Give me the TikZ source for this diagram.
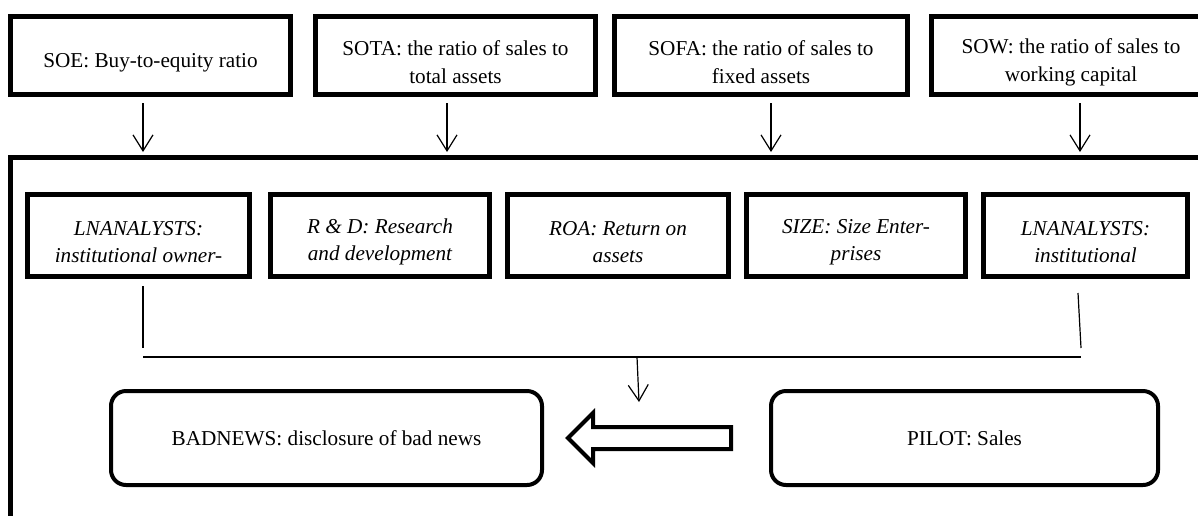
\documentclass[tikz,border=0pt]{standalone}
\usepackage{fontspec}
\setmainfont{Liberation Serif}
\usetikzlibrary{arrows.meta,calc}
\newcommand\oben{\rule{0pt}{14pt}}
\begin{document}
\begin{tikzpicture}[>={Straight Barb[length=8pt,width=10pt]},line width=0.6pt,
	kasten/.style={draw,line width=2.5pt,minimum height=78*\ds,inner sep=0pt,align=center,
		font=\fontsize{10.6}{13.8}\selectfont},
	kursiv/.style={kasten,minimum height=82*\ds,font=\fontsize{10.6}{13.6}\selectfont\itshape},
	rund/.style={draw,line width=2pt,rounded corners=7.5pt,minimum height=94*\ds,inner sep=0pt,
		font=\fontsize{10.6}{13.8}\selectfont},
	rahmen/.style={draw,line width=2.5pt,anchor=north west,inner sep=0pt}]
\def\ds{0.5pt}
\def\punkt#1#2{({(#1)*\ds},{-(#2)*\ds})}
\useasboundingbox \punkt{0}{0} rectangle \punkt{1198}{515};
\clip \punkt{0}{0} rectangle \punkt{1198}{515};
% obere Reihe
\node[kasten,minimum width=280*\ds] (soe) at \punkt{150.5}{55.5} {\oben SOE: Buy-to-equity ratio};
\node[kasten,minimum width=280*\ds] (sota) at \punkt{455.5}{55.5} {\oben SOTA: the ratio of sales to\\total assets};
\node[kasten,minimum width=293*\ds] (sofa) at \punkt{761}{55.5} {\oben SOFA: the ratio of sales to\\fixed assets};
\node[kasten,minimum width=279*\ds] (sow) at \punkt{1071}{55.5} {\oben SOW: the ratio of sales to\\working capital};
% grosser Rahmen
\node[rahmen,minimum width=1300*\ds,minimum height=420*\ds] (feld) at \punkt{7.5}{155} {};
\draw[->] ([xshift=-7.5*\ds,yshift=-6*\ds]soe.south) -- ([xshift=-7.5*\ds,yshift=3*\ds]soe.south |- feld.north);
\draw[->] ([xshift=-8.5*\ds,yshift=-6*\ds]sota.south) -- ([xshift=-8.5*\ds,yshift=3*\ds]sota.south |- feld.north);
\draw[->] ([xshift=10*\ds,yshift=-6*\ds]sofa.south) -- ([xshift=10*\ds,yshift=3*\ds]sofa.south |- feld.north);
\draw[->] ([xshift=9*\ds,yshift=-6*\ds]sow.south) -- ([xshift=9*\ds,yshift=3*\ds]sow.south |- feld.north);
% innere Reihe
\node[kursiv,minimum width=222*\ds] (lna) at \punkt{138.5}{235.5} {\oben LNANALYSTS:\\institutional owner-};
\node[kursiv,minimum width=219*\ds] (rd) at \punkt{380}{235.5} {\oben R \& D: Research\\and development};
\node[kursiv,minimum width=221*\ds] (roa) at \punkt{618}{235.5} {\oben ROA: Return on\\assets};
\node[kursiv,minimum width=219*\ds] (size) at \punkt{856}{235.5} {\oben SIZE: Size Enter-\\prises};
\node[kursiv,minimum width=204*\ds] (lnb) at \punkt{1085.5}{235.5} {\oben LNANALYSTS:\\institutional};
\path \punkt{143}{348} coordinate (lu);
\path \punkt{143}{357} coordinate (lk);
\path \punkt{637}{357} coordinate (mk);
\path \punkt{639}{402} coordinate (mu);
\path \punkt{1081}{357} coordinate (rk);
\path \punkt{1081}{348} coordinate (ru);
\draw ([xshift=4.5*\ds,yshift=-7*\ds]lna.south) -- (lu);
\draw ([xshift=-7.5*\ds,yshift=-14*\ds]lnb.south) -- (ru);
\draw (lk) -- (rk);
\draw[->] (mk) -- (mu);
% untere Reihe
\node[rund,minimum width=431*\ds] (bad) at \punkt{326.5}{438} {BADNEWS: disclosure of bad news};
\node[rund,minimum width=387*\ds] (pilot) at \punkt{964.5}{438} {PILOT: Sales};
\draw[line width=2pt,line join=miter] ($(bad.east)+(24*\ds,0)$) -- ++(25*\ds,25*\ds) -- ++(0,-14*\ds)
	-- ++(138*\ds,0) -- ++(0,-22*\ds) -- ++(-138*\ds,0) -- ++(0,-14*\ds) -- cycle;
\end{tikzpicture}
\end{document}
